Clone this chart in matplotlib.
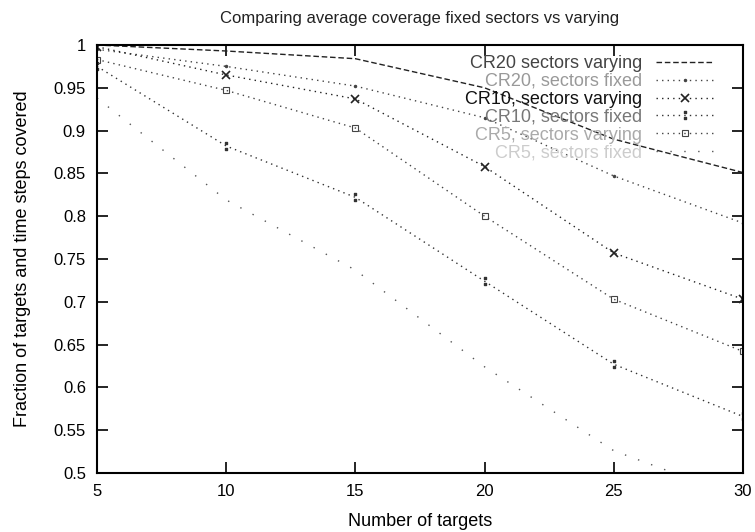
import numpy as np
import matplotlib
matplotlib.use('Agg')
import matplotlib.pyplot as plt
from matplotlib.ticker import FormatStrFormatter

plt.rcParams['font.family'] = ['Liberation Sans', 'DejaVu Sans']

# number of targets
targets = [5, 10, 15, 20, 25, 30]

# fraction covered
cr20_var = [1.000, 0.993, 0.984, 0.950, 0.890, 0.851]
cr20_fix = [0.995, 0.975, 0.952, 0.915, 0.847, 0.792]
cr10_var = [0.998, 0.965, 0.937, 0.858, 0.757, 0.703]
cr10_fix = [0.975, 0.882, 0.822, 0.724, 0.627, 0.566]
cr5_var = [0.983, 0.947, 0.903, 0.800, 0.703, 0.642]
cr5_fix = [0.938, 0.819, 0.737, 0.624, 0.526, 0.470]

labels = ['CR20 sectors varying', 'CR20, sectors fixed', 'CR10, sectors varying',
          'CR10, sectors fixed', 'CR5, sectors varying', 'CR5, sectors fixed']

fig = plt.figure(figsize=(7.55, 5.32), dpi=100)
ax = fig.add_axes([0.1285, 0.111, 0.8555, 0.8044])

dots = (0, (1, 3))
ax.plot(targets, cr20_var, color='#222222', lw=1.0, ls=(0, (4, 2)), label=labels[0])
ax.plot(targets, cr20_fix, color='#444444', lw=1.0, ls=dots, marker='.', ms=3, label=labels[1])
ax.plot(targets, cr10_var, color='#222222', lw=1.0, ls=dots, marker='x', ms=6, mew=1.2, label=labels[2])
ax.plot(targets, cr10_fix, color='#333333', lw=1.0, ls=dots, marker='$:$', ms=6, label=labels[3])
ax.plot(targets, cr5_var, color='#444444', lw=1.0, ls=dots, marker='s', ms=5, mfc='none', mew=0.8, label=labels[4])
ax.plot(targets, cr5_fix, color='#555555', lw=1.0, ls=(0, (1, 9)), label=labels[5])

ax.set_xlim(5, 30)
ax.set_ylim(0.5, 1.0)
ax.set_xticks(np.arange(5, 31, 5))
ax.set_yticks(np.arange(0.5, 1.001, 0.05))
ax.yaxis.set_major_formatter(FormatStrFormatter('%g'))
ax.tick_params(direction='in', length=8, width=1.2, top=True, right=True, labelsize=12, pad=8)
for s in ax.spines.values():
    s.set_linewidth(1.5)

ax.set_title('Comparing average coverage fixed sectors vs varying', fontsize=12, color='#222222', pad=16)
ax.set_xlabel('Number of targets', fontsize=13, labelpad=10)
ax.set_ylabel('Fraction of targets and time steps covered', fontsize=13, labelpad=16)

leg = ax.legend(loc='upper right', bbox_to_anchor=(0.975, 1.006), frameon=False, markerfirst=False,
                fontsize=13, handlelength=3.2, labelspacing=0.05, borderpad=0.2, handletextpad=0.8)
greys = ['#444444', '#999999', '#111111', '#777777', '#aaaaaa', '#cccccc']
for t, g in zip(leg.get_texts(), greys):
    t.set_color(g)

plt.savefig('out.png', dpi=100)
